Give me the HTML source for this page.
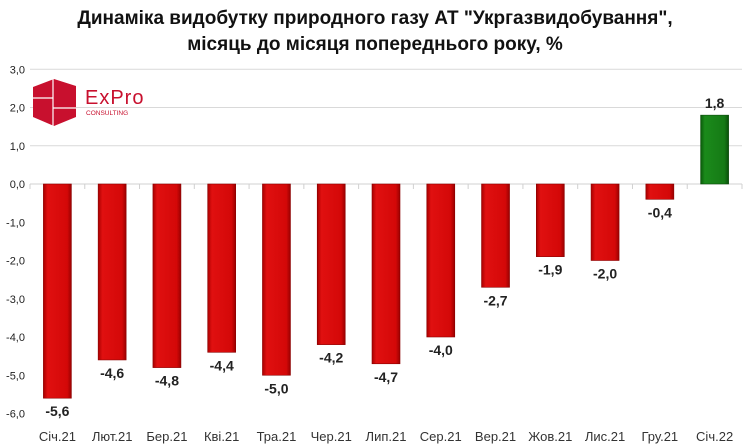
<!DOCTYPE html>
<html><head><meta charset="utf-8"><style>
body{margin:0;background:#fff;width:750px;height:446px;overflow:hidden}
svg{display:block;font-family:"Liberation Sans",Arial,sans-serif}
</style></head><body>
<svg width="750" height="446" viewBox="0 0 750 446">
<defs>
<linearGradient id="rg" x1="0" x2="1" y1="0" y2="0"><stop offset="0" stop-color="#a80000"/><stop offset="0.15" stop-color="#e01010"/><stop offset="0.85" stop-color="#d40808"/><stop offset="1" stop-color="#9a0000"/></linearGradient>
<linearGradient id="gg" x1="0" x2="1" y1="0" y2="0"><stop offset="0" stop-color="#0a5a0a"/><stop offset="0.15" stop-color="#1b8a1b"/><stop offset="0.85" stop-color="#157a15"/><stop offset="1" stop-color="#0a500a"/></linearGradient>
</defs>
<text x="375" y="24" text-anchor="middle" font-size="19" font-weight="bold" fill="#111">Динаміка видобутку природного газу АТ "Укргазвидобування",</text>
<text x="375" y="50" text-anchor="middle" font-size="19" font-weight="bold" fill="#111">місяць до місяця попереднього року, %</text>
<g id="grid"></g><g id="yt"></g><g id="bars"></g><g id="xt"></g>
<g>
<polygon points="54,79 76,86 76,117 54,126 33,117 33,87" fill="#c8102e"/>
<line x1="53" y1="79" x2="53" y2="126" stroke="#fff" stroke-width="1.2"/>
<line x1="33" y1="98" x2="53" y2="98" stroke="#fff" stroke-width="1.2"/>
<line x1="53" y1="108" x2="76" y2="108" stroke="#fff" stroke-width="1.2"/>
<text x="85" y="104" font-size="20" fill="#c8102e" letter-spacing="1">ExPro</text>
<text x="86" y="115" font-size="6.5" fill="#c8102e">CONSULTING</text>
</g>
</svg>
<script>
const categories=["Січ.21","Лют.21","Бер.21","Кві.21","Тра.21","Чер.21","Лип.21","Сер.21","Вер.21","Жов.21","Лис.21","Гру.21","Січ.22"];
const values=[-5.6,-4.6,-4.8,-4.4,-5.0,-4.2,-4.7,-4.0,-2.7,-1.9,-2.0,-0.4,1.8];
const yTicks=[3,2,1,0,-1,-2,-3,-4,-5,-6];
const NS="http://www.w3.org/2000/svg";
const x0=30,x1=742,band=(x1-x0)/categories.length;
const y=v=>184-v*38.25;
const xc=i=>x0+band*(i+0.5);
const fmt=v=>v.toFixed(1).replace('.',',');
function mk(t,a,p,txt){const e=document.createElementNS(NS,t);for(const k in a)e.setAttribute(k,a[k]);if(txt!=null)e.textContent=txt;p.appendChild(e);return e;}
const grid=document.getElementById('grid'),yt=document.getElementById('yt'),bars=document.getElementById('bars'),xt=document.getElementById('xt');
yTicks.forEach(v=>{
 if(v>0){const l=mk('line',{x1:x0,x2:x1,y1:y(v),y2:y(v),stroke:'#d9d9d9'},grid);
 
 }
 const t=mk('text',{x:25,y:y(v)+4,'text-anchor':'end','font-size':11,fill:'#222'},yt,fmt(v));
 
 
});
values.forEach((v,i)=>{
 const w=28,top=Math.min(y(v),y(0)),h=Math.abs(y(v)-y(0));
 const r=mk('rect',{x:xc(i)-w/2,y:top,width:w,height:h,fill:v<0?'url(#rg)':'url(#gg)',stroke:v<0?'#8a0000':'#0a4a0a','stroke-width':0.6},bars);
 
 
 const ly=v<0?y(v)+18:y(v)-7;
 const t=mk('text',{x:xc(i),y:ly,'text-anchor':'middle','font-size':14,'font-weight':'bold',fill:'#222'},bars,fmt(v));
 
 
 const c=mk('text',{x:xc(i),y:441,'text-anchor':'middle','font-size':13,fill:'#333'},xt,categories[i]);
 
 
});
for(let i=0;i<=categories.length;i++){const l=mk('line',{x1:x0+band*i,x2:x0+band*i,y1:184,y2:189,stroke:'#d0d0d0'},grid);
 
 }
const ax=mk('line',{x1:x0,x2:x1,y1:184,y2:184,stroke:'#d0d0d0'},grid);


</script>
</body></html>
